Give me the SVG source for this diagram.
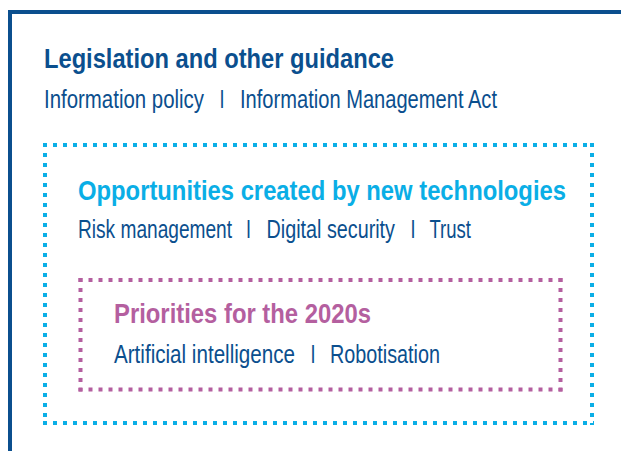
<svg xmlns="http://www.w3.org/2000/svg" width="621" height="451" viewBox="0 0 621 451">
<style>
text{font-family:"Liberation Sans Narrow","Liberation Sans",Arial,sans-serif}
.t1{font-size:28px;font-weight:bold;fill:#0b4f8e}
.t2{font-size:28px;font-weight:bold;fill:#0aaee6}
.t3{font-size:28px;font-weight:bold;fill:#b45f9f}
.s{font-size:25px;fill:#0b4f8e}
.cy{stroke:#0aaee6;stroke-width:4;stroke-dasharray:4 6;fill:none}
.mg{stroke:#b45f9f;stroke-width:4;stroke-dasharray:4 6;fill:none}
</style>
<rect width="621" height="451" fill="#ffffff"/>
<g id="outer">
<path d="M10 451 V12 H621" fill="none" stroke="#0b4f8e" stroke-width="4"/>
<text class="t1" x="44" y="68" textLength="350" lengthAdjust="spacingAndGlyphs">Legislation and other guidance</text>
<text class="s" x="44" y="108" textLength="160" lengthAdjust="spacingAndGlyphs">Information policy</text>
<text class="s" x="219.5" y="108" textLength="5" lengthAdjust="spacingAndGlyphs">I</text>
<text class="s" x="240" y="108" textLength="257" lengthAdjust="spacingAndGlyphs">Information Management Act</text>
</g>
<g id="middle">
<g>
<line class="cy" x1="43" y1="145" x2="594" y2="145"/>
<line class="cy" x1="45" y1="143" x2="45" y2="425"/>
<line class="cy" x1="592" y1="143" x2="592" y2="425"/>
<line class="cy" x1="43" y1="423" x2="594" y2="423"/>
</g>
<text class="t2" x="78" y="200" textLength="488" lengthAdjust="spacingAndGlyphs">Opportunities created by new technologies</text>
<text class="s" x="78" y="238" textLength="154" lengthAdjust="spacingAndGlyphs">Risk management</text>
<text class="s" x="246" y="238" textLength="5" lengthAdjust="spacingAndGlyphs">I</text>
<text class="s" x="266.5" y="238" textLength="128.5" lengthAdjust="spacingAndGlyphs">Digital security</text>
<text class="s" x="410.5" y="238" textLength="5" lengthAdjust="spacingAndGlyphs">I</text>
<text class="s" x="429.5" y="238" textLength="41.5" lengthAdjust="spacingAndGlyphs">Trust</text>
</g>
<g id="inner">
<g>
<line class="mg" x1="78.5" y1="280" x2="562.5" y2="280"/>
<line class="mg" x1="80.5" y1="278" x2="80.5" y2="391.5"/>
<line class="mg" x1="560.5" y1="278" x2="560.5" y2="391.5"/>
<line class="mg" x1="78.5" y1="389.5" x2="562.5" y2="389.5"/>
</g>
<text class="t3" x="114" y="323" textLength="257" lengthAdjust="spacingAndGlyphs">Priorities for the 2020s</text>
<text class="s" x="114" y="363" textLength="181" lengthAdjust="spacingAndGlyphs">Artificial intelligence</text>
<text class="s" x="310.5" y="363" textLength="5" lengthAdjust="spacingAndGlyphs">I</text>
<text class="s" x="330" y="363" textLength="110" lengthAdjust="spacingAndGlyphs">Robotisation</text>
</g>
</svg>
